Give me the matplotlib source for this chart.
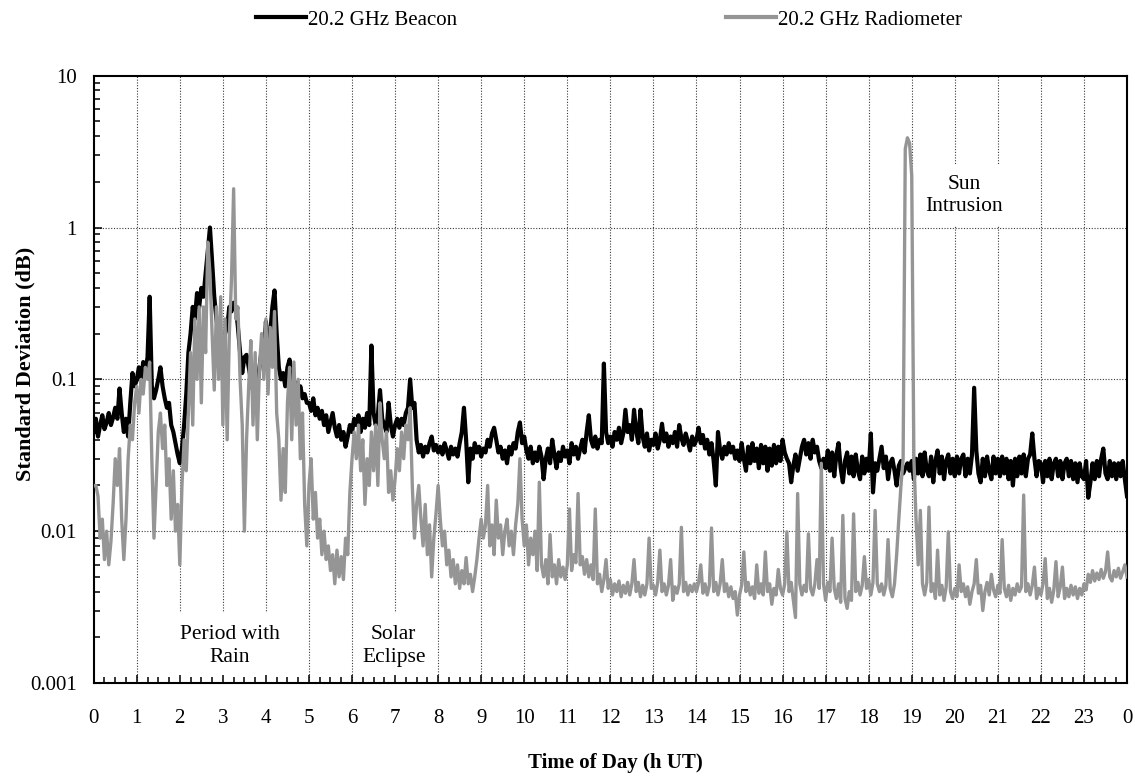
import numpy as np
import matplotlib
matplotlib.use("Agg")
import matplotlib.pyplot as plt
from matplotlib.lines import Line2D
from matplotlib.patches import Rectangle
from matplotlib.ticker import FixedLocator, FixedFormatter, MultipleLocator, NullFormatter

plt.rcParams["font.family"] = ["Liberation Serif", "DejaVu Serif"]

# ---------------------------------------------------------------------------
# Data: 3-minute standard deviation samples (dB), one row per UT hour
# ---------------------------------------------------------------------------
SAMPLE_STEP_H = 0.05

beacon_h00 = [0.045, 0.055, 0.042, 0.05, 0.058, 0.047, 0.052, 0.06, 0.05, 0.056, 0.065, 0.055, 0.087, 0.06, 0.045, 0.055, 0.042, 0.07, 0.11, 0.09]
beacon_h01 = [0.1, 0.12, 0.095, 0.13, 0.11, 0.14, 0.35, 0.09, 0.075, 0.085, 0.1, 0.12, 0.09, 0.075, 0.065, 0.07, 0.05, 0.045, 0.038, 0.032]
beacon_h02 = [0.028, 0.035, 0.05, 0.08, 0.15, 0.2, 0.3, 0.25, 0.37, 0.3, 0.4, 0.35, 0.5, 0.7, 1.0, 0.6, 0.35, 0.25, 0.2, 0.17]
beacon_h03 = [0.16, 0.2, 0.22, 0.3, 0.28, 0.32, 0.3, 0.22, 0.15, 0.11, 0.14, 0.145, 0.12, 0.1, 0.085, 0.1, 0.09, 0.12, 0.155, 0.13]
beacon_h04 = [0.24, 0.15, 0.2, 0.3, 0.385, 0.2, 0.12, 0.1, 0.11, 0.09, 0.12, 0.135, 0.1, 0.085, 0.095, 0.08, 0.09, 0.075, 0.08, 0.07]
beacon_h05 = [0.07, 0.062, 0.075, 0.058, 0.065, 0.055, 0.062, 0.05, 0.058, 0.045, 0.052, 0.06, 0.048, 0.042, 0.05, 0.04, 0.045, 0.036, 0.042, 0.05]
beacon_h06 = [0.045, 0.055, 0.05, 0.058, 0.045, 0.055, 0.048, 0.06, 0.05, 0.167, 0.06, 0.05, 0.058, 0.085, 0.055, 0.05, 0.045, 0.07, 0.05, 0.042]
beacon_h07 = [0.05, 0.055, 0.048, 0.055, 0.05, 0.06, 0.065, 0.1, 0.065, 0.07, 0.04, 0.033, 0.037, 0.031, 0.036, 0.033, 0.038, 0.042, 0.034, 0.037]
beacon_h08 = [0.033, 0.036, 0.032, 0.038, 0.034, 0.03, 0.036, 0.032, 0.035, 0.031, 0.038, 0.045, 0.065, 0.04, 0.021, 0.035, 0.03, 0.038, 0.033, 0.036]
beacon_h09 = [0.031, 0.035, 0.033, 0.04, 0.036, 0.044, 0.048, 0.04, 0.033, 0.036, 0.03, 0.034, 0.028, 0.036, 0.032, 0.038, 0.035, 0.045, 0.052, 0.038]
beacon_h10 = [0.042, 0.034, 0.03, 0.036, 0.028, 0.033, 0.029, 0.036, 0.031, 0.022, 0.03, 0.035, 0.028, 0.04, 0.032, 0.026, 0.033, 0.029, 0.036, 0.031]
beacon_h11 = [0.034, 0.028, 0.038, 0.032, 0.036, 0.03, 0.035, 0.04, 0.033, 0.045, 0.058, 0.04, 0.036, 0.042, 0.035, 0.04, 0.038, 0.127, 0.045, 0.038]
beacon_h12 = [0.042, 0.036, 0.045, 0.04, 0.048, 0.038, 0.044, 0.063, 0.045, 0.05, 0.04, 0.063, 0.046, 0.038, 0.063, 0.042, 0.036, 0.044, 0.034, 0.04]
beacon_h13 = [0.037, 0.044, 0.035, 0.04, 0.051, 0.039, 0.044, 0.036, 0.042, 0.038, 0.045, 0.036, 0.05, 0.041, 0.037, 0.044, 0.039, 0.034, 0.042, 0.037]
beacon_h14 = [0.04, 0.048, 0.038, 0.043, 0.035, 0.04, 0.032, 0.038, 0.029, 0.02, 0.045, 0.034, 0.03, 0.036, 0.032, 0.038, 0.033, 0.036, 0.03, 0.034]
beacon_h15 = [0.029, 0.038, 0.03, 0.025, 0.036, 0.028, 0.038, 0.029, 0.035, 0.026, 0.037, 0.028, 0.036, 0.025, 0.035, 0.027, 0.037, 0.028, 0.036, 0.029]
beacon_h16 = [0.04, 0.033, 0.03, 0.028, 0.021, 0.027, 0.032, 0.025, 0.03, 0.036, 0.04, 0.032, 0.038, 0.03, 0.04, 0.033, 0.036, 0.029, 0.026, 0.03]
beacon_h17 = [0.026, 0.034, 0.025, 0.033, 0.023, 0.032, 0.038, 0.026, 0.021, 0.029, 0.033, 0.024, 0.031, 0.023, 0.032, 0.025, 0.022, 0.031, 0.024, 0.03]
beacon_h18 = [0.025, 0.044, 0.018, 0.028, 0.025, 0.03, 0.036, 0.026, 0.031, 0.022, 0.028, 0.03, 0.025, 0.02, 0.027, 0.029, 0.024, 0.026, 0.028, 0.025]
beacon_h19 = [0.029, 0.022, 0.03, 0.024, 0.032, 0.023, 0.033, 0.025, 0.023, 0.031, 0.021, 0.029, 0.034, 0.024, 0.031, 0.022, 0.029, 0.032, 0.024, 0.03]
beacon_h20 = [0.023, 0.031, 0.024, 0.03, 0.032, 0.023, 0.03, 0.024, 0.032, 0.088, 0.034, 0.024, 0.021, 0.03, 0.023, 0.031, 0.025, 0.022, 0.031, 0.024]
beacon_h21 = [0.03, 0.023, 0.031, 0.024, 0.03, 0.022, 0.029, 0.02, 0.03, 0.023, 0.031, 0.024, 0.032, 0.023, 0.03, 0.032, 0.044, 0.03, 0.023, 0.029]
beacon_h22 = [0.028, 0.021, 0.029, 0.023, 0.03, 0.022, 0.028, 0.03, 0.023, 0.029, 0.022, 0.028, 0.03, 0.023, 0.029, 0.022, 0.028, 0.021, 0.028, 0.023]
beacon_h23 = [0.022, 0.029, 0.0166, 0.021, 0.028, 0.022, 0.029, 0.023, 0.03, 0.035, 0.024, 0.022, 0.029, 0.023, 0.028, 0.022, 0.028, 0.023, 0.029, 0.022]
beacon_h24 = [0.017]

radiometer_h00 = [0.02, 0.02, 0.017, 0.009, 0.012, 0.0065, 0.01, 0.006, 0.0085, 0.015, 0.03, 0.02, 0.035, 0.012, 0.0065, 0.012, 0.03, 0.05, 0.04, 0.07]
radiometer_h01 = [0.09, 0.06, 0.1, 0.08, 0.12, 0.1, 0.13, 0.03, 0.009, 0.02, 0.045, 0.06, 0.035, 0.05, 0.02, 0.03, 0.012, 0.025, 0.01, 0.015]
radiometer_h02 = [0.006, 0.02, 0.04, 0.025, 0.06, 0.15, 0.05, 0.25, 0.1, 0.3, 0.07, 0.3, 0.15, 0.8, 0.5, 0.2, 0.085, 0.3, 0.1, 0.35]
radiometer_h03 = [0.05, 0.25, 0.04, 0.2, 0.45, 1.8, 0.25, 0.3, 0.1, 0.05, 0.01, 0.04, 0.09, 0.18, 0.05, 0.15, 0.04, 0.12, 0.2, 0.1]
radiometer_h04 = [0.25, 0.08, 0.22, 0.12, 0.28, 0.06, 0.04, 0.016, 0.035, 0.018, 0.07, 0.12, 0.04, 0.13, 0.05, 0.1, 0.03, 0.06, 0.015, 0.008]
radiometer_h05 = [0.02, 0.03, 0.012, 0.018, 0.009, 0.012, 0.007, 0.01, 0.0065, 0.008, 0.0055, 0.007, 0.0045, 0.0075, 0.005, 0.0068, 0.0048, 0.009, 0.007, 0.018]
radiometer_h06 = [0.03, 0.045, 0.03, 0.05, 0.025, 0.04, 0.015, 0.03, 0.02, 0.045, 0.025, 0.05, 0.02, 0.07, 0.04, 0.03, 0.045, 0.018, 0.025, 0.016]
radiometer_h07 = [0.022, 0.035, 0.025, 0.045, 0.03, 0.05, 0.04, 0.065, 0.02, 0.009, 0.015, 0.02, 0.012, 0.008, 0.015, 0.007, 0.011, 0.005, 0.009, 0.013]
radiometer_h08 = [0.02, 0.012, 0.008, 0.01, 0.006, 0.0075, 0.005, 0.0065, 0.0045, 0.006, 0.0042, 0.0055, 0.0045, 0.0067, 0.0045, 0.0052, 0.004, 0.005, 0.0065, 0.009]
radiometer_h09 = [0.012, 0.009, 0.011, 0.02, 0.008, 0.011, 0.007, 0.016, 0.009, 0.011, 0.007, 0.01, 0.012, 0.008, 0.01, 0.007, 0.011, 0.015, 0.03, 0.012]
radiometer_h10 = [0.008, 0.011, 0.006, 0.009, 0.007, 0.01, 0.0055, 0.021, 0.006, 0.005, 0.0065, 0.0045, 0.0095, 0.005, 0.006, 0.0045, 0.0065, 0.005, 0.0058, 0.0048]
radiometer_h11 = [0.006, 0.014, 0.0055, 0.007, 0.0062, 0.0177, 0.006, 0.0068, 0.0052, 0.0065, 0.005, 0.006, 0.0048, 0.014, 0.0045, 0.0052, 0.004, 0.0048, 0.0065, 0.0042]
radiometer_h12 = [0.0048, 0.0038, 0.0045, 0.004, 0.0047, 0.0037, 0.0044, 0.0039, 0.0046, 0.0038, 0.0045, 0.0065, 0.004, 0.0046, 0.0037, 0.0044, 0.0038, 0.0045, 0.009, 0.0042]
radiometer_h13 = [0.0044, 0.0038, 0.0046, 0.0075, 0.004, 0.0045, 0.0038, 0.0044, 0.0065, 0.0035, 0.0043, 0.0039, 0.0045, 0.0106, 0.004, 0.0046, 0.0038, 0.0044, 0.004, 0.0045]
radiometer_h14 = [0.004, 0.0046, 0.006, 0.0039, 0.0045, 0.0038, 0.0044, 0.0105, 0.004, 0.0046, 0.0038, 0.0045, 0.0065, 0.004, 0.0045, 0.0037, 0.0043, 0.0036, 0.004, 0.0028]
radiometer_h15 = [0.0038, 0.0044, 0.0073, 0.004, 0.0046, 0.0038, 0.0043, 0.0036, 0.006, 0.0039, 0.0045, 0.0038, 0.0073, 0.004, 0.0045, 0.0033, 0.0042, 0.0038, 0.0056, 0.0042]
radiometer_h16 = [0.0038, 0.0045, 0.0099, 0.004, 0.0046, 0.0035, 0.0027, 0.0177, 0.0045, 0.0038, 0.0044, 0.004, 0.0096, 0.0042, 0.0038, 0.0045, 0.0065, 0.0042, 0.028, 0.0045]
radiometer_h17 = [0.0035, 0.0046, 0.004, 0.009, 0.0042, 0.0036, 0.0045, 0.0034, 0.0127, 0.0036, 0.0031, 0.004, 0.0035, 0.013, 0.004, 0.0046, 0.0038, 0.0044, 0.0068, 0.0042]
radiometer_h18 = [0.0048, 0.0038, 0.0046, 0.0137, 0.0045, 0.004, 0.0045, 0.0038, 0.0044, 0.0088, 0.0042, 0.0037, 0.0045, 0.007, 0.012, 0.02, 0.03, 3.3, 3.9, 3.6]
radiometer_h19 = [2.2, 0.03, 0.012, 0.006, 0.0137, 0.0045, 0.0038, 0.0046, 0.0144, 0.004, 0.0045, 0.0036, 0.0075, 0.0038, 0.0044, 0.0035, 0.0043, 0.0099, 0.004, 0.0036]
radiometer_h20 = [0.0042, 0.0037, 0.006, 0.004, 0.0045, 0.0037, 0.0043, 0.0033, 0.004, 0.0045, 0.0065, 0.0039, 0.0044, 0.003, 0.004, 0.0046, 0.0038, 0.0052, 0.0041, 0.0037]
radiometer_h21 = [0.0044, 0.0039, 0.0088, 0.0042, 0.0037, 0.0044, 0.0035, 0.0042, 0.0038, 0.0045, 0.004, 0.0043, 0.0173, 0.004, 0.0045, 0.0038, 0.0044, 0.0058, 0.0036, 0.0042]
radiometer_h22 = [0.0038, 0.0045, 0.0066, 0.0036, 0.0042, 0.0034, 0.0041, 0.0063, 0.0037, 0.0043, 0.0058, 0.0036, 0.0042, 0.0037, 0.0044, 0.0038, 0.0043, 0.0036, 0.0042, 0.0038]
radiometer_h23 = [0.0045, 0.0041, 0.0052, 0.0046, 0.0055, 0.0047, 0.0053, 0.0048, 0.0056, 0.0049, 0.0054, 0.0073, 0.005, 0.0047, 0.0055, 0.005, 0.0057, 0.0049, 0.0054, 0.006]
radiometer_h24 = [0.005]

hour_tick_labels = ["0", "1", "2", "3", "4", "5", "6", "7", "8", "9", "10", "11", "12",
                    "13", "14", "15", "16", "17", "18", "19", "20", "21", "22", "23", "0"]
decade_ticks = [0.001, 0.01, 0.1, 1, 10]
decade_labels = ["0.001", "0.01", "0.1", "1", "10"]

series_names = ["20.2 GHz Beacon", "20.2 GHz Radiometer"]

beacon = np.concatenate([beacon_h00, beacon_h01, beacon_h02, beacon_h03, beacon_h04, beacon_h05,
                         beacon_h06, beacon_h07, beacon_h08, beacon_h09, beacon_h10, beacon_h11,
                         beacon_h12, beacon_h13, beacon_h14, beacon_h15, beacon_h16, beacon_h17,
                         beacon_h18, beacon_h19, beacon_h20, beacon_h21, beacon_h22, beacon_h23,
                         beacon_h24])
radiometer = np.concatenate([radiometer_h00, radiometer_h01, radiometer_h02, radiometer_h03,
                             radiometer_h04, radiometer_h05, radiometer_h06, radiometer_h07,
                             radiometer_h08, radiometer_h09, radiometer_h10, radiometer_h11,
                             radiometer_h12, radiometer_h13, radiometer_h14, radiometer_h15,
                             radiometer_h16, radiometer_h17, radiometer_h18, radiometer_h19,
                             radiometer_h20, radiometer_h21, radiometer_h22, radiometer_h23,
                             radiometer_h24])
t_beacon = np.arange(len(beacon)) * SAMPLE_STEP_H
t_radiometer = np.arange(len(radiometer)) * SAMPLE_STEP_H

# ---------------------------------------------------------------------------
# Figure
# ---------------------------------------------------------------------------
W, H = 1135, 776
fig = plt.figure(figsize=(W / 100, H / 100), dpi=100)
left_px, right_px, top_px, bottom_px = 93.7, 1127, 75.7, 683
ax = fig.add_axes([left_px / W, 1 - bottom_px / H,
                   (right_px - left_px) / W, (bottom_px - top_px) / H])

BEACON_COLOR = "black"
RADIOMETER_COLOR = "#959595"

ax.plot(t_beacon, beacon, color=BEACON_COLOR, lw=3.0, zorder=3)
ax.plot(t_radiometer, radiometer, color=RADIOMETER_COLOR, lw=2.4, zorder=4)

ax.set_yscale("log")
ax.set_xlim(0, 24)
ax.set_ylim(0.001, 10)

# ticks
hour_positions = list(range(len(hour_tick_labels)))
ax.xaxis.set_major_locator(FixedLocator(hour_positions))
ax.xaxis.set_major_formatter(FixedFormatter(hour_tick_labels))
ax.xaxis.set_minor_locator(MultipleLocator(0.25))
ax.yaxis.set_major_locator(FixedLocator(decade_ticks))
ax.yaxis.set_major_formatter(FixedFormatter(decade_labels))
minor_y = [m * d for d in decade_ticks[:-1] for m in range(2, 10)]
ax.yaxis.set_minor_locator(FixedLocator(minor_y))
ax.yaxis.set_minor_formatter(NullFormatter())

ax.tick_params(which="both", direction="in", top=False, right=False, width=1.1,
               labelsize=15)
ax.tick_params(which="major", length=6)
ax.tick_params(which="minor", length=4)
ax.tick_params(axis="x", which="major", pad=19)
ax.tick_params(axis="y", which="major", pad=12)

for side in ["left", "bottom", "top", "right"]:
    ax.spines[side].set_linewidth(1.5)

# dotted grid at the major ticks, kept beneath the label panels
grid_kw = dict(color="#3a3a3a", lw=0.8, linestyle=(0, (1, 1.5)), zorder=1)
for h in hour_positions[1:-1]:
    ax.axvline(h, **grid_kw)
for d in decade_ticks[1:-1]:
    ax.axhline(d, **grid_kw)

ax.set_xlabel("Time of Day (h UT)", fontsize=15, fontweight="bold", va="center")
ax.set_ylabel("Standard Deviation (dB)", fontsize=16, fontweight="bold", va="center")
ax.xaxis.set_label_coords(0.5045, -0.1317)
ax.yaxis.set_label_coords(-0.0665, 0.525)

# white panels behind the period labels at the foot of the plot
for x0, x1 in [(1.5, 4.6), (6.45, 7.55)]:
    ax.add_patch(Rectangle((x0, 0.001), x1 - x0, 0.0019, facecolor="white",
                           edgecolor="none", zorder=1.5))

# annotations
note_kw = dict(ha="center", va="center", fontsize=15.5, linespacing=1.25, zorder=2)
ax.text(3.17, 0.00175, "Period with\nRain", **note_kw)
ax.text(6.97, 0.00175, "Solar\nEclipse", **note_kw)
ax.text(20.22, 1.63, "Sun\nIntrusion",
        bbox=dict(facecolor="white", edgecolor="none", pad=7), **note_kw)

# legend along the top
handles = [Line2D([], [], color=BEACON_COLOR, lw=3),
           Line2D([], [], color=RADIOMETER_COLOR, lw=3)]
fig.legend(handles, series_names, loc="center left",
           bbox_to_anchor=(256 / W, 1 - 20 / H), ncol=2, frameon=False,
           fontsize=15, handlelength=2.4, handletextpad=0.1, columnspacing=12.9,
           borderpad=0, borderaxespad=0)

fig.savefig("out.png", dpi=100, facecolor="white")
